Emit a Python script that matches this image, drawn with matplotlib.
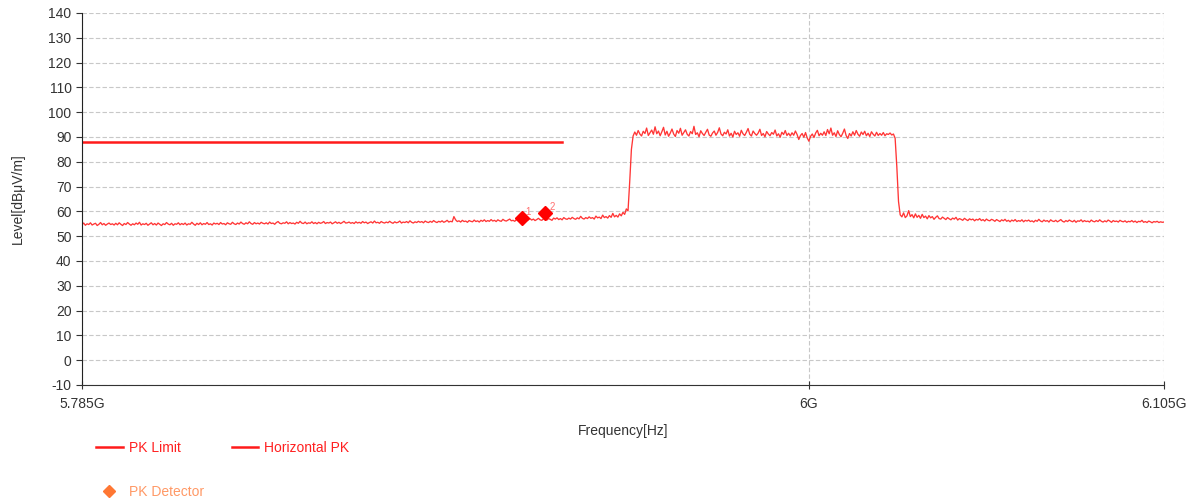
import matplotlib
matplotlib.use("Agg")
import matplotlib.pyplot as plt
from matplotlib.lines import Line2D
import numpy as np

plt.rcParams['font.family'] = ['Liberation Sans', 'DejaVu Sans']
plt.rcParams['axes.unicode_minus'] = False

# sweep 5.785 GHz .. 6.105 GHz, 0.5 MHz step, level in dBuV/m
f_start = 5.785e9
f_stop = 6.105e9
level = [
    54.6, 55.3, 54.4, 55.0, 54.7, 55.4, 54.5, 54.9, 55.2, 54.3, 54.8, 55.5, 54.6, 55.1, 54.4, 54.9, 55.3, 54.7, 55.0, 54.5,
    55.2, 54.6, 55.4, 54.8, 54.3, 55.1, 54.7, 55.5, 54.9, 54.4, 55.0, 54.6, 55.3, 54.8, 55.6, 54.5, 55.0, 54.7, 55.2, 54.4,
    54.9, 55.4, 54.6, 55.1, 54.5, 55.3, 54.8, 54.3, 55.0, 54.7, 55.5, 54.9, 54.6, 55.2, 54.4, 55.0, 54.8, 55.4, 54.6, 55.1,
    54.7, 55.3, 54.5, 55.0, 54.8, 55.6, 54.9, 54.4, 55.2, 54.7, 55.4, 54.6, 55.1, 54.8, 55.5, 54.7, 55.0, 54.5, 55.3, 54.9,
    55.2, 54.7, 55.5, 54.9, 55.1, 54.6, 55.4, 55.0, 54.8, 55.6, 55.0, 54.7, 55.3, 54.9, 55.7, 55.1, 54.8, 55.4, 55.0, 55.8,
    55.1, 54.8, 55.5, 55.0, 55.3, 54.9, 55.6, 55.2, 55.0, 55.4, 54.9, 55.7, 55.1, 55.3, 54.8, 55.5, 55.9, 55.2, 55.0, 55.4,
    55.2, 55.8, 55.0, 55.5, 55.1, 55.3, 54.9, 55.6, 55.2, 56.0, 55.3, 55.1, 55.7, 55.0, 55.4, 55.2, 55.8, 55.1, 55.5, 55.0,
    55.6, 55.2, 55.4, 55.9, 55.1, 55.5, 55.3, 55.7, 55.0, 55.4, 55.8, 55.2, 55.6, 55.1, 55.5, 56.0, 55.3, 55.4, 55.7, 55.2,
    55.5, 55.1, 55.8, 55.3, 55.6, 55.2, 55.9, 55.4, 55.7, 55.1, 55.5, 55.8, 55.3, 56.1, 55.4, 55.6, 55.2, 55.9, 55.5, 55.3,
    55.7, 55.4, 56.0, 55.5, 55.2, 55.8, 55.4, 55.6, 56.1, 55.3, 55.7, 55.5, 55.9, 55.4, 56.2, 55.6, 55.3, 55.8, 55.5, 56.0,
    55.6, 55.9, 55.4, 56.1, 55.7, 55.5, 56.0, 55.6, 56.3, 55.8, 55.5, 56.0, 55.7, 56.2, 55.6, 55.9, 56.4, 55.7, 56.0, 55.8,
    57.9, 56.6, 55.9, 56.2, 55.7, 56.4, 55.9, 56.1, 55.6, 56.3, 56.0, 55.8, 56.5, 55.9, 56.2, 55.7, 56.4, 56.0, 56.6, 55.9,
    56.3, 56.0, 56.7, 56.1, 56.4, 55.9, 56.6, 56.2, 56.0, 56.8, 56.3, 56.1, 56.5, 56.9, 56.2, 56.4, 56.0, 56.7, 56.3, 56.5,
    57.0, 56.4, 56.8, 56.2, 56.6, 57.1, 56.5, 56.9, 56.3, 56.7, 57.2, 56.6, 56.4, 57.0, 56.7, 56.5, 57.1, 56.8, 56.4, 57.3,
    56.9, 57.4, 56.7, 57.1, 56.6, 57.5, 57.0, 56.8, 57.3, 56.9, 57.6, 57.1, 56.8, 57.4, 57.0, 58.0, 57.2, 56.9, 57.5, 57.1,
    57.8, 57.2, 57.5, 56.9, 58.1, 57.4, 57.7, 57.1, 58.5, 57.5, 57.9, 57.3, 58.3, 57.6, 59.2, 57.8, 58.4, 57.7, 59.0, 58.2,
    59.6, 58.8, 61.0, 60.2, 72.0, 85.0, 90.4, 92.0, 90.7, 92.6, 91.2, 90.4, 92.3, 91.4, 93.6, 90.6, 91.7, 92.8, 91.1, 94.1,
    91.3, 92.4, 90.5, 92.1, 93.9, 90.8, 92.3, 90.3, 91.6, 93.2, 91.2, 90.2, 92.6, 91.5, 93.5, 90.7, 91.8, 92.9, 91.1, 90.4,
    92.2, 91.3, 94.3, 91.0, 91.7, 90.1, 92.5, 91.4, 90.6, 91.9, 93.1, 90.8, 90.3, 91.6, 92.4, 90.7, 91.8, 93.7, 91.2, 90.5,
    91.9, 91.2, 92.9, 90.4, 91.5, 90.0, 92.3, 91.0, 91.7, 90.3, 92.7, 91.3, 90.6, 91.9, 93.4, 91.1, 90.4, 92.4, 91.4, 90.7,
    91.6, 93.1, 90.6, 91.4, 90.1, 92.2, 91.2, 90.5, 91.8, 91.1, 92.8, 90.4, 91.3, 89.9, 91.9, 91.0, 92.6, 90.6, 91.5, 90.4,
    91.7, 90.7, 92.4, 91.0, 89.0, 90.6, 91.4, 89.9, 91.8, 89.6, 88.3, 90.3, 91.2, 89.8, 91.6, 92.7, 90.5, 91.5, 90.7, 92.1,
    90.6, 93.0, 91.3, 93.6, 90.7, 91.7, 90.2, 92.5, 91.0, 90.1, 91.5, 93.2, 90.6, 89.4, 91.4, 90.4, 92.1, 90.7, 92.6, 91.1,
    90.3, 92.0, 91.0, 92.3, 90.5, 91.5, 90.2, 92.1, 91.1, 90.4, 91.9, 90.6, 91.4, 90.7, 91.8, 90.5, 91.3, 91.0, 91.6, 90.8,
    91.2, 89.5, 78.0, 64.0, 58.6, 57.8, 59.4, 57.5, 58.2, 60.3, 57.9, 58.7, 57.4, 59.0, 57.6, 58.4, 57.2, 58.8, 57.5, 58.1,
    57.0, 58.3, 57.4, 57.9, 56.8, 57.6, 58.2, 57.1, 56.9, 57.7, 57.2, 56.7, 57.5, 57.0, 56.6, 57.3, 56.9, 57.6, 56.5, 57.1,
    56.8, 56.4, 57.2, 56.7, 56.3, 57.0, 56.6, 56.9, 56.2, 56.8, 56.5, 57.1, 56.3, 56.7, 56.1, 56.9, 56.4, 56.2, 56.8, 56.5,
    56.0, 56.7, 56.3, 55.9, 56.6, 56.2, 56.8, 56.0, 56.4, 55.8, 56.5, 56.1, 56.7, 55.9, 56.3, 56.0, 56.6, 55.8, 56.4, 56.1,
    56.5, 55.9, 56.2, 55.7, 56.4, 56.0, 56.8, 56.1, 55.8, 56.5, 56.0, 56.3, 55.7, 56.6, 56.1, 55.9, 56.4, 55.8, 56.2, 56.7,
    56.0, 55.7, 56.3, 55.9, 56.5, 56.1, 55.8, 56.4, 55.6, 56.2, 56.0, 56.6, 55.8, 56.3, 55.9, 56.1, 55.7, 56.5, 56.0, 55.8,
    56.3, 55.9, 56.6, 56.0, 55.7, 56.2, 55.8, 56.5, 56.1, 55.6, 56.3, 55.9, 56.1, 55.7, 56.4, 56.0, 55.8, 56.2, 55.6, 56.0,
    55.8, 56.3, 55.7, 56.1, 55.5, 56.0, 55.8, 56.4, 55.6, 55.9, 55.5, 56.1, 55.8, 55.4, 55.9, 55.7, 56.0, 55.5, 55.8, 55.6,
    55.7,
]
freq = np.linspace(f_start, f_stop, len(level))

limit_freq = [5.785e9, 5.927e9]
limit_level = [88.0, 88.0]

marker_freq = [5.915e9, 5.922e9]
marker_level = [57.3, 59.4]
marker_names = ["1", "2"]

xtick_vals = [5.785e9, 6.0e9, 6.105e9]
xtick_labels = ["5.785G", "6G", "6.105G"]
ytick_vals = list(range(-10, 141, 10))

fig = plt.figure(figsize=(11.95, 5.03), dpi=100)
ax = fig.add_axes([0.0686, 0.2346, 0.9054, 0.7396])

ax.plot(limit_freq, limit_level, color="#ff1a1a", lw=1.8, label="PK Limit")
ax.plot(freq, level, color="#ff2020", lw=0.95, alpha=0.9, label="Horizontal PK")
ax.plot(marker_freq, marker_level, linestyle="none", marker="D", markersize=7,
        color="#ff0000", zorder=5)
for fx, lv, nm in zip(marker_freq, marker_level, marker_names):
    ax.annotate(nm, (fx, lv), xytext=(3, 2), textcoords="offset points",
                fontsize=7, color="#ff7070")

ax.set_xlim(f_start, f_stop)
ax.set_ylim(-10, 140)
ax.set_xticks(xtick_vals)
ax.set_xticklabels(xtick_labels)
ax.set_yticks(ytick_vals)

ax.grid(True, color="#c8c8c8", linestyle=(0, (4, 2)), lw=0.8)
ax.set_axisbelow(True)
for s in ["top", "right"]:
    ax.spines[s].set_visible(False)
ax.spines["left"].set_color("#222222")
ax.spines["bottom"].set_color("#333333")
ax.tick_params(axis="both", labelsize=10, colors="#333333", length=4, width=0.8)
ax.tick_params(axis="x", direction="inout", length=6, pad=6)

ax.set_xlabel("Frequency[Hz]", fontsize=10, color="#333333")
ax.set_ylabel("Level[dBμV/m]", fontsize=10, color="#333333")
ax.yaxis.set_label_coords(-0.053, 0.5)
ax.xaxis.set_label_coords(0.5, -0.105)

handles = [
    Line2D([], [], color="#ff1a1a", lw=1.8),
    Line2D([], [], linestyle="none", marker="D", markersize=6, color="#ff7733"),
    Line2D([], [], color="#ff1a1a", lw=1.8),
]
names = ["PK Limit", "PK Detector", "Horizontal PK"]
leg = fig.legend(handles, names, loc="upper left", bbox_to_anchor=(0.07, 0.149),
                 ncol=2, frameon=False, fontsize=10, labelspacing=2.2,
                 handlelength=1.9, columnspacing=2.0, handletextpad=0.45)
for t, c in zip(leg.get_texts(), ["#ff2020", "#ff9966", "#ff2020"]):
    t.set_color(c)

fig.savefig("out.png", dpi=100)
